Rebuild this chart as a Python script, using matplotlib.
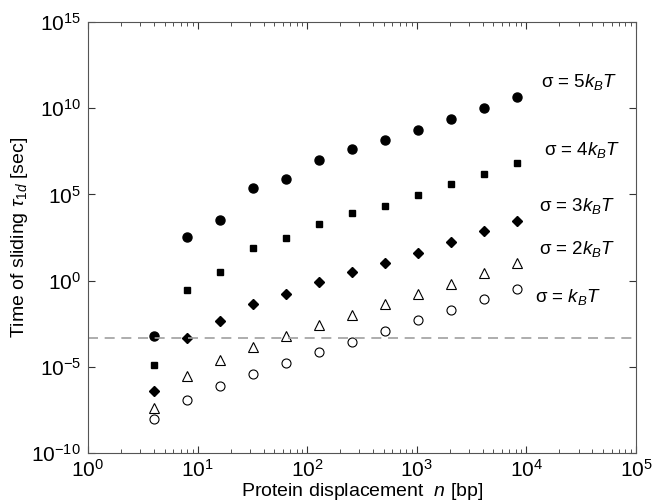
import numpy as np
import matplotlib
matplotlib.use("Agg")
import matplotlib.pyplot as plt
from matplotlib.ticker import LogLocator, NullFormatter

plt.rcParams["font.family"] = ["Liberation Sans", "DejaVu Sans"]
plt.rcParams["mathtext.fontset"] = "custom"
plt.rcParams["mathtext.rm"] = "Liberation Sans"
plt.rcParams["mathtext.it"] = "Liberation Sans:italic"

# protein displacement n [bp]
n_bp = [4, 8, 16, 32, 64, 128, 256, 512, 1024, 2048, 4096, 8192]

# log10 of sliding time for each sigma
log_tau_5kT = [-3.21, 2.53, 3.52, 5.37, 5.89, 7.00, 7.63, 8.16, 8.74, 9.37, 10.01, 10.65]
log_tau_4kT = [-4.90, -0.55, 0.50, 1.89, 2.47, 3.28, 3.92, 4.33, 4.97, 5.60, 6.18, 6.82]
log_tau_3kT = [-6.40, -3.33, -2.34, -1.36, -0.78, -0.08, 0.50, 1.02, 1.60, 2.24, 2.88, 3.46]
log_tau_2kT = [-7.39, -5.53, -4.61, -3.85, -3.21, -2.58, -2.00, -1.36, -0.78, -0.20, 0.44, 1.02]
log_tau_1kT = [-8.03, -6.93, -6.11, -5.42, -4.78, -4.14, -3.56, -2.92, -2.29, -1.71, -1.07, -0.49]

threshold = 10 ** -3.33

labels = [r"σ = $5k_B T$", r"σ = $4k_B T$", r"σ = $3k_B T$", r"σ = $2k_B T$", r"σ = $k_B T$"]

fig = plt.figure(figsize=(6.64, 5.04), dpi=100)
ax = fig.add_axes([88 / 664, 1 - 453 / 504, 548 / 664, 431 / 504])

x = np.array(n_bp)
ax.plot(x, 10 ** np.array(log_tau_5kT), "o", color="black", ms=6.5, ls="none")
ax.plot(x, 10 ** np.array(log_tau_4kT), "s", color="black", ms=5, ls="none")
ax.plot(x, 10 ** np.array(log_tau_3kT), "D", color="black", ms=5, ls="none")
ax.plot(x, 10 ** np.array(log_tau_2kT), "^", mfc="white", mec="black", mew=0.8, ms=6.5, ls="none")
ax.plot(x, 10 ** np.array(log_tau_1kT), "o", mfc="white", mec="black", mew=0.8, ms=6.5, ls="none")

ax.axhline(threshold, color="#a0a0a0", lw=1.2, ls=(0, (6, 4)))

# curve labels
label_pos = [(1.35e4, 10 ** 11.5), (1.45e4, 10 ** 7.6), (1.3e4, 10 ** 4.3),
             (1.3e4, 10 ** 1.85), (1.2e4, 10 ** -0.95)]
for (lx, ly), txt in zip(label_pos, labels):
    ax.text(lx, ly, txt, fontsize=13.5, va="center", ha="left")

ax.set_xscale("log")
ax.set_yscale("log")
ax.set_xlim(1, 1e5)
ax.set_ylim(1e-10, 1e15)
ax.set_xticks([1, 10, 100, 1e3, 1e4, 1e5])
ax.set_yticks([1e-10, 1e-5, 1, 1e5, 1e10, 1e15])
ax.xaxis.set_minor_locator(LogLocator(base=10, subs=np.arange(2, 10), numticks=20))
ax.xaxis.set_minor_formatter(NullFormatter())
ax.yaxis.set_minor_locator(plt.NullLocator())
ax.tick_params(which="both", direction="in", top=True, right=True, labelsize=15, colors="#333333",
               labelcolor="black")
ax.tick_params(which="major", length=5)
ax.tick_params(which="minor", length=3)
ax.tick_params(axis="y", pad=5)
ax.tick_params(axis="x", pad=4.5)
for sp in ax.spines.values():
    sp.set_color("#555555")
    sp.set_linewidth(0.8)

ax.set_xlabel(r"Protein displacement  $n$ [bp]", fontsize=14, labelpad=0)
ax.set_ylabel(r"Time of sliding $\tau_{1d}$ [sec]", fontsize=14, labelpad=1)

fig.savefig("out.png", dpi=100)
